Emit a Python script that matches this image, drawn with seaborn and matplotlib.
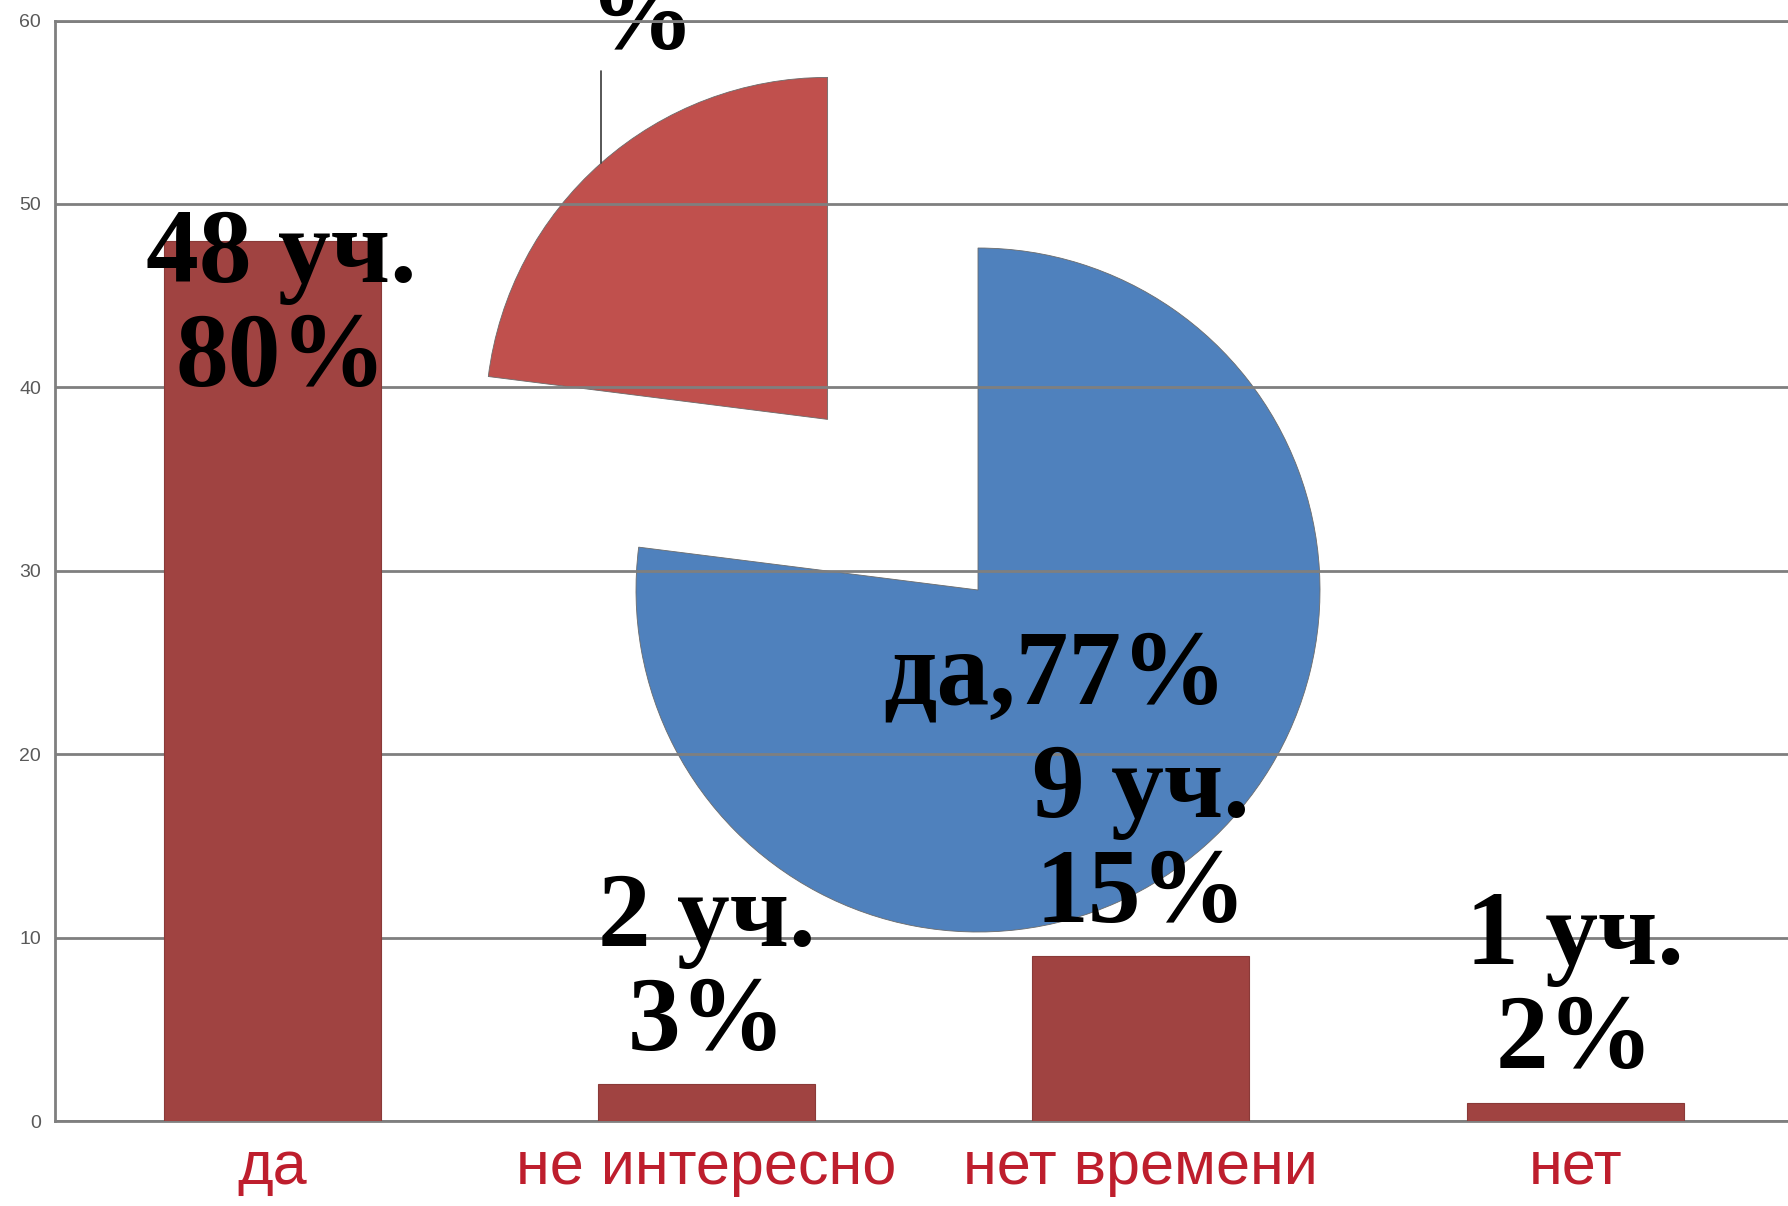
import matplotlib
matplotlib.use('Agg')
import matplotlib.pyplot as plt
import numpy as np
import pandas as pd
import seaborn as sns

# ---- data ----
categories = ['да', 'не интересно', 'нет времени', 'нет']
counts = [48, 2, 9, 1]
percents = [80, 3, 15, 2]
pie_labels = ['да', 'нет']
pie_values = [77, 23]
y_ticks = [0, 10, 20, 30, 40, 50, 60]

W, H = 1788, 1206
sns.set_theme(style='white')
plt.rcParams['font.family'] = ['Liberation Serif', 'DejaVu Serif']
narrow = ['Liberation Sans Narrow', 'Liberation Sans', 'DejaVu Sans']

fig = plt.figure(figsize=(W / 100, H / 100), dpi=100)
fig.patch.set_facecolor('white')

# pie layer (pixel coordinates), under the bar chart
pax = fig.add_axes([0, 0, 1, 1], zorder=0)
ax = fig.add_axes([55 / W, 85 / H, 1 - 55 / W, (1185.5 - 85) / H], zorder=1)
ax.set_facecolor('none')

# ---- bars ----
df = pd.DataFrame({'cat': categories, 'n': counts})
sns.barplot(data=df, x='cat', y='n', color='#A04341', saturation=1, width=0.5,
            edgecolor='#8a3a38', linewidth=0.8, ax=ax, zorder=3)
ax.set_xlim(-0.5, 3.49)
ax.set_ylim(0, 60)
ax.set_yticks(y_ticks)
ax.set_axisbelow(True)
ax.yaxis.grid(True, color='#7f7f7f', linewidth=2)
ax.xaxis.grid(False)
ax.spines['right'].set_visible(False)
for side in ['left', 'bottom', 'top']:
    ax.spines[side].set_color('#7f7f7f')
    ax.spines[side].set_linewidth(2)
ax.set_xlabel('')
ax.set_ylabel('')
ax.tick_params(axis='y', length=0, pad=10, labelsize=14, labelcolor='#595959')
ax.tick_params(axis='x', length=0, pad=14, labelsize=44, labelcolor='#BE1E2D')
for t in ax.get_yticklabels():
    t.set_family(narrow)
for t in ax.get_xticklabels():
    t.set_family(narrow)

# bar value labels (above the bar, or inside near the top if it would overflow)
px_per_unit = (1121 - 20.5) / 60.0
for i, (c, p) in enumerate(zip(counts, percents)):
    txt = f"{c} уч.\n{p}%"
    above = 6.1
    if c + above + 4.8 > 57:
        off_px = -3.7 * px_per_unit
    else:
        off_px = above * px_per_unit
    ax.annotate(txt, xy=(i, c), xytext=(0.02 * 435 * 72 / 100 if off_px < 0 else 0, off_px * 72 / 100),
                textcoords='offset points',
                ha='center', va='center', fontsize=76, fontweight='bold', color='black',
                linespacing=1.1, zorder=5)

# ---- pie ----
R = 342
wedges, _ = pax.pie(pie_values, colors=['#4F81BD', '#C0504D'], startangle=90,
                    counterclock=False, explode=[0, 0.665 * R], center=(978, H - 590),
                    radius=R, wedgeprops=dict(edgecolor='#6b6b6b', linewidth=0.6))
pax.set_xlim(0, W)
pax.set_ylim(0, H)
pax.set_aspect('auto')
pax.axis('off')

# blue wedge label
w0 = wedges[0]
mid0 = np.deg2rad((w0.theta1 + w0.theta2) / 2)
cx, cy = w0.center
pax.text(cx + 0.343 * w0.r * np.cos(mid0), cy + 0.343 * w0.r * np.sin(mid0),
         f"{pie_labels[0]},{pie_values[0]}%", ha='center', va='center',
         fontsize=76, fontweight='bold', color='black')

# red wedge label with leader line (label largely outside the figure)
w1 = wedges[1]
mid1 = np.deg2rad((w1.theta1 + w1.theta2) / 2)
ex, ey = w1.center
lx = ex + w1.r * np.cos(mid1)
ly = ey + w1.r * np.sin(mid1)
pax.plot([lx, lx], [ly, H - 71], color='#3a3a3a', linewidth=1.2)
pax.text(lx + 40, H - 72, f"{pie_labels[1]},{pie_values[1]}\n%", ha='center', va='bottom',
         fontsize=76, fontweight='bold', color='black', linespacing=1.0)

fig.savefig('out.png', dpi=100, facecolor='white')
